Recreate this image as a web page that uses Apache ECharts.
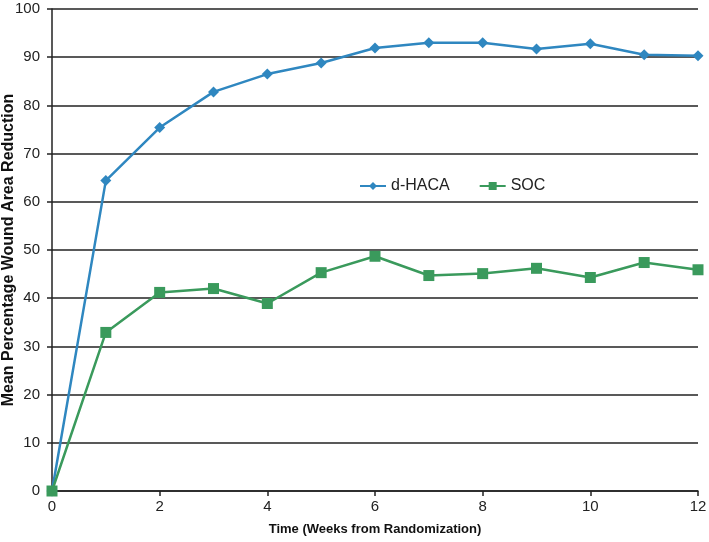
<!DOCTYPE html>
<html>
<head>
<meta charset="utf-8">
<script src="https://cdn.jsdelivr.net/npm/echarts@6/dist/echarts.min.js"></script>
<style>
  html, body { margin: 0; padding: 0; background: #fff; }
  #main { width: 709px; height: 542px; }
</style>
</head>
<body>
<div id="main"></div>
<script>
var weeks = [0, 1, 2, 3, 4, 5, 6, 7, 8, 9, 10, 11, 12];
var dHACA = [0, 64.4, 75.4, 82.8, 86.5, 88.8, 91.9, 93.0, 93.0, 91.7, 92.8, 90.5, 90.3];
var soc = [0, 32.9, 41.2, 42.0, 38.9, 45.3, 48.7, 44.7, 45.1, 46.2, 44.3, 47.4, 45.9];

function pairs(ys) {
  return weeks.map(function (w, i) { return [w, ys[i]]; });
}

var chart = echarts.init(document.getElementById('main'));
var font = 'Liberation Sans, Arial, sans-serif';

var option = {
  animation: false,
  backgroundColor: '#fff',
  grid: { left: 52, right: 11, top: 9, bottom: 51, containLabel: false, outerBoundsMode: 'none' },
  legend: {
    left: 354,
    top: 173,
    itemWidth: 26,
    itemHeight: 10,
    itemGap: 29,
    textStyle: { fontFamily: font, fontSize: 16, color: '#222' },
    data: ['d-HACA', 'SOC']
  },
  xAxis: {
    type: 'value',
    min: 0,
    max: 12,
    interval: 2,
    name: 'Time (Weeks from Randomization)',
    nameLocation: 'middle',
    nameGap: 32,
    nameTextStyle: { fontFamily: font, fontSize: 13, fontWeight: 'bold', color: '#111' },
    axisLine: { show: true, lineStyle: { color: '#222', width: 1.5 } },
    axisTick: { show: true, length: 5, inside: false, lineStyle: { color: '#222', width: 1.5 } },
    axisLabel: { fontFamily: font, fontSize: 15, color: '#222', margin: 8 },
    splitLine: { show: false }
  },
  yAxis: {
    type: 'value',
    min: 0,
    max: 100,
    interval: 10,
    name: 'Mean Percentage Wound Area Reduction',
    nameLocation: 'middle',
    nameGap: 35,
    nameMoveOverlap: false,
    nameTextStyle: { fontFamily: font, fontSize: 16, fontWeight: 'bold', color: '#111' },
    axisLine: { show: true, lineStyle: { color: '#222', width: 1.5 } },
    axisTick: { show: true, length: 5, lineStyle: { color: '#222', width: 1.5 } },
    axisLabel: { fontFamily: font, fontSize: 15, color: '#222', margin: 12 },
    splitLine: { show: true, lineStyle: { color: '#222', width: 1.5 } }
  },
  series: [
    {
      name: 'd-HACA',
      type: 'line',
      data: pairs(dHACA),
      symbol: 'diamond',
      symbolSize: 11,
      color: '#2f87c0',
      lineStyle: { width: 2.5, color: '#2f87c0' },
      itemStyle: { color: '#2f87c0' },
      z: 3
    },
    {
      name: 'SOC',
      type: 'line',
      data: pairs(soc),
      symbol: 'rect',
      symbolSize: 11,
      color: '#3a9a5c',
      lineStyle: { width: 2.5, color: '#3a9a5c' },
      itemStyle: { color: '#3a9a5c' },
      z: 4
    }
  ]
};

chart.setOption(option);
</script>
</body>
</html>
